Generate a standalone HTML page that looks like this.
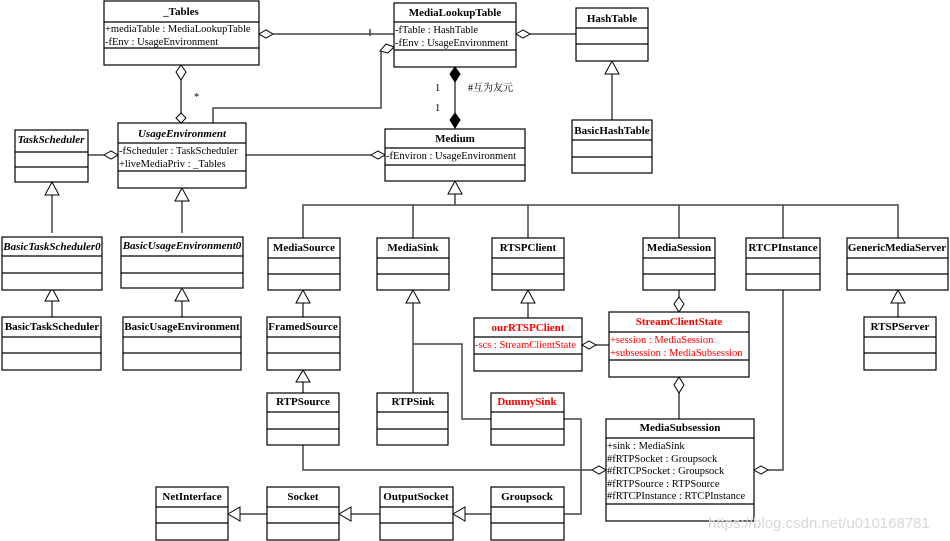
<!DOCTYPE html>
<html><head><meta charset="utf-8"><style>
html,body{margin:0;padding:0;background:#fff;}
svg{display:block;}
text{font-family:"Liberation Serif","Noto Serif CJK SC",serif;font-size:10.5px;fill:#000;}
.h{font-weight:bold;font-size:11px;text-anchor:middle;}
.i{font-style:italic;}
.r{fill:#f00;}
.b{fill:#fff;stroke:#000;stroke-width:1.2;}
.d{stroke:#000;stroke-width:1.2;}
.c{stroke:#444;stroke-width:1.5;fill:none;}
.t{fill:#fff;stroke:#000;stroke-width:1;}
.o{fill:#fff;stroke:#000;stroke-width:1;}
.f{fill:#000;stroke:#000;}
</style></head><body>
<svg width="950" height="541" viewBox="0 0 950 541" xmlns="http://www.w3.org/2000/svg">
<!-- connectors -->
<g class="c">
<polyline points="273,34 394,34"/><line x1="370" y1="29" x2="370" y2="36"/>
<polyline points="381,52 381,108 213,108 213,123"/>
<polyline points="530,34 576,34"/>
<line x1="455" y1="82" x2="455" y2="113"/>
<line x1="181" y1="80" x2="181" y2="113"/>
<line x1="88" y1="155" x2="104" y2="155"/>
<line x1="246" y1="155" x2="371" y2="155"/>
<line x1="612" y1="74" x2="612" y2="120"/>
<line x1="52" y1="195" x2="52" y2="233"/>
<line x1="182" y1="201" x2="182" y2="233"/>
<line x1="52" y1="301" x2="52" y2="317"/>
<line x1="182" y1="301" x2="182" y2="317"/>
<polyline points="455,194 455,205"/>
<polyline points="303,238 303,205 898,205 898,238"/>
<line x1="413" y1="205" x2="413" y2="238"/>
<line x1="528" y1="205" x2="528" y2="238"/>
<line x1="679" y1="205" x2="679" y2="238"/>
<line x1="783" y1="205" x2="783" y2="238"/>
<line x1="303" y1="303" x2="303" y2="317"/>
<line x1="303" y1="382" x2="303" y2="393"/>
<line x1="413" y1="303" x2="413" y2="393"/>
<polyline points="413,344 462,344 462,419 491,419"/>
<line x1="528" y1="303" x2="528" y2="318"/>
<line x1="596" y1="345" x2="609" y2="345"/>
<line x1="679" y1="290" x2="679" y2="297"/>
<line x1="679" y1="393" x2="679" y2="419"/>
<polyline points="783,290 783,470 768,470"/>
<polyline points="303,445 303,470 592,470"/>
<polyline points="564,419 581,419 581,514 564,514"/>
<line x1="465" y1="514" x2="491" y2="514"/>
<line x1="351" y1="514" x2="380" y2="514"/>
<line x1="240" y1="514" x2="267" y2="514"/>
<line x1="898" y1="303" x2="898" y2="317"/>
</g>
<!-- diamonds -->
<polygon class="o" points="259,34 266,30 273,34 266,38"/>
<polygon class="o" points="394,47 388,53 380,51 386,44"/>
<polygon class="o" points="516,34 523,30 530,34 523,38"/>
<polygon class="o" points="181,65 186,72 181,80 176,72"/>
<polygon class="o" points="181,113 186,118 181,123 176,118"/>
<polygon class="o" points="104,155 111,151 118,155 111,159"/>
<polygon class="o" points="371,155 378,151 385,155 378,159"/>
<polygon class="f" points="455,67 460,74 455,82 450,74"/>
<polygon class="f" points="455,113 460,120 455,128 450,120"/>
<polygon class="o" points="582,345 589,341 596,345 589,349"/>
<polygon class="o" points="679,297 684,304 679,312 674,304"/>
<polygon class="o" points="679,377 684,385 679,393 674,385"/>
<polygon class="o" points="754,470 761,466 768,470 761,474"/>
<polygon class="o" points="592,470 599,466 606,470 599,474"/>
<!-- triangles (up) -->
<polygon class="t" points="612,61 605,74 619,74"/>
<polygon class="t" points="52,182 45,195 59,195"/>
<polygon class="t" points="182,188 175,201 189,201"/>
<polygon class="t" points="52,288 45,301 59,301"/>
<polygon class="t" points="182,288 175,301 189,301"/>
<polygon class="t" points="455,181 448,194 462,194"/>
<polygon class="t" points="303,290 296,303 310,303"/>
<polygon class="t" points="303,370 296,382 310,382"/>
<polygon class="t" points="413,290 406,303 420,303"/>
<polygon class="t" points="528,290 521,303 535,303"/>
<polygon class="t" points="898,290 891,303 905,303"/>
<!-- triangles left -->
<polygon class="t" points="453,514 465,507 465,521"/>
<polygon class="t" points="339,514 351,507 351,521"/>
<polygon class="t" points="228,514 240,507 240,521"/>
<!-- labels -->
<text x="435" y="91">1</text><text x="435" y="111">1</text>
<text x="468" y="91" style="font-size:10px">#互为友元</text>
<text x="194" y="100">*</text>

<!-- boxes -->
<g>
<rect class="b" x="104" y="1" width="155" height="64"/><line class="d" x1="104" y1="22" x2="259" y2="22"/><line class="d" x1="104" y1="48" x2="259" y2="48"/>
<text class="h" x="181" y="15">_Tables</text><text x="105" y="32">+mediaTable : MediaLookupTable</text><text x="105" y="45">-fEnv : UsageEnvironment</text>

<rect class="b" x="394" y="3" width="122" height="64"/><line class="d" x1="394" y1="22" x2="516" y2="22"/><line class="d" x1="394" y1="50" x2="516" y2="50"/>
<text class="h" x="455" y="16">MediaLookupTable</text><text x="395" y="33">-fTable : HashTable</text><text x="395" y="46">-fEnv : UsageEnvironment</text>

<rect class="b" x="576" y="8" width="72" height="53"/><line class="d" x1="576" y1="28" x2="648" y2="28"/><line class="d" x1="576" y1="44" x2="648" y2="44"/>
<text class="h" x="612" y="22">HashTable</text>

<rect class="b" x="572" y="120" width="80" height="53"/><line class="d" x1="572" y1="140" x2="652" y2="140"/><line class="d" x1="572" y1="157" x2="652" y2="157"/>
<text class="h" x="612" y="134">BasicHashTable</text>

<rect class="b" x="15" y="130" width="73" height="52"/><line class="d" x1="15" y1="152" x2="88" y2="152"/><line class="d" x1="15" y1="167" x2="88" y2="167"/>
<text class="h i" x="51" y="143">TaskScheduler</text>

<rect class="b" x="118" y="123" width="128" height="65"/><line class="d" x1="118" y1="143" x2="246" y2="143"/><line class="d" x1="118" y1="171" x2="246" y2="171"/>
<text class="h i" x="182" y="137">UsageEnvironment</text><text x="119" y="154">-fScheduler : TaskScheduler</text><text x="119" y="167">+liveMediaPriv : _Tables</text>

<rect class="b" x="385" y="129" width="140" height="52"/><line class="d" x1="385" y1="148" x2="525" y2="148"/><line class="d" x1="385" y1="165" x2="525" y2="165"/>
<text class="h" x="455" y="142">Medium</text><text x="386" y="159">-fEnviron : UsageEnvironment</text>

<rect class="b" x="2" y="237" width="100" height="53"/><line class="d" x1="2" y1="256" x2="102" y2="256"/><line class="d" x1="2" y1="273" x2="102" y2="273"/>
<text class="h i" x="52" y="250">BasicTaskScheduler0</text>

<rect class="b" x="121" y="237" width="122" height="51"/><line class="d" x1="121" y1="256" x2="243" y2="256"/><line class="d" x1="121" y1="273" x2="243" y2="273"/>
<text class="h i" x="182" y="249">BasicUsageEnvironment0</text>

<rect class="b" x="268" y="238" width="72" height="52"/><line class="d" x1="268" y1="258" x2="340" y2="258"/><line class="d" x1="268" y1="274" x2="340" y2="274"/>
<text class="h" x="304" y="251">MediaSource</text>
<rect class="b" x="377" y="238" width="72" height="52"/><line class="d" x1="377" y1="258" x2="449" y2="258"/><line class="d" x1="377" y1="274" x2="449" y2="274"/>
<text class="h" x="413" y="251">MediaSink</text>
<rect class="b" x="492" y="238" width="72" height="52"/><line class="d" x1="492" y1="258" x2="564" y2="258"/><line class="d" x1="492" y1="274" x2="564" y2="274"/>
<text class="h" x="528" y="251">RTSPClient</text>
<rect class="b" x="643" y="238" width="72" height="52"/><line class="d" x1="643" y1="258" x2="715" y2="258"/><line class="d" x1="643" y1="274" x2="715" y2="274"/>
<text class="h" x="679" y="251">MediaSession</text>
<rect class="b" x="746" y="238" width="74" height="52"/><line class="d" x1="746" y1="258" x2="820" y2="258"/><line class="d" x1="746" y1="274" x2="820" y2="274"/>
<text class="h" x="783" y="251">RTCPInstance</text>
<rect class="b" x="847" y="238" width="101" height="52"/><line class="d" x1="847" y1="258" x2="948" y2="258"/><line class="d" x1="847" y1="274" x2="948" y2="274"/>
<text class="h" x="897" y="251">GenericMediaServer</text>

<rect class="b" x="2" y="317" width="99" height="53"/><line class="d" x1="2" y1="337" x2="101" y2="337"/><line class="d" x1="2" y1="353" x2="101" y2="353"/>
<text class="h" x="52" y="330">BasicTaskScheduler</text>
<rect class="b" x="123" y="317" width="118" height="53"/><line class="d" x1="123" y1="337" x2="241" y2="337"/><line class="d" x1="123" y1="353" x2="241" y2="353"/>
<text class="h" x="182" y="330">BasicUsageEnvironment</text>
<rect class="b" x="267" y="317" width="73" height="53"/><line class="d" x1="267" y1="337" x2="340" y2="337"/><line class="d" x1="267" y1="353" x2="340" y2="353"/>
<text class="h" x="303" y="330">FramedSource</text>
<rect class="b" x="864" y="317" width="72" height="53"/><line class="d" x1="864" y1="337" x2="936" y2="337"/><line class="d" x1="864" y1="353" x2="936" y2="353"/>
<text class="h" x="900" y="330">RTSPServer</text>

<rect class="b" x="474" y="318" width="108" height="53"/><line class="d" x1="474" y1="337" x2="582" y2="337"/><line class="d" x1="474" y1="354" x2="582" y2="354"/>
<text class="h r" x="528" y="331">ourRTSPClient</text><text class="r" x="475" y="348">-scs : StreamClientState</text>

<rect class="b" x="609" y="312" width="140" height="65"/><line class="d" x1="609" y1="332" x2="749" y2="332"/><line class="d" x1="609" y1="360" x2="749" y2="360"/>
<text class="h r" x="679" y="325">StreamClientState</text><text class="r" x="610" y="343">+session : MediaSession</text><text class="r" x="610" y="356">+subsession : MediaSubsession</text>

<rect class="b" x="267" y="393" width="72" height="52"/><line class="d" x1="267" y1="412" x2="339" y2="412"/><line class="d" x1="267" y1="429" x2="339" y2="429"/>
<text class="h" x="303" y="405">RTPSource</text>
<rect class="b" x="377" y="393" width="71" height="52"/><line class="d" x1="377" y1="412" x2="448" y2="412"/><line class="d" x1="377" y1="429" x2="448" y2="429"/>
<text class="h" x="413" y="405">RTPSink</text>
<rect class="b" x="491" y="393" width="73" height="52"/><line class="d" x1="491" y1="412" x2="564" y2="412"/><line class="d" x1="491" y1="429" x2="564" y2="429"/>
<text class="h r" x="527" y="405">DummySink</text>

<rect class="b" x="606" y="419" width="148" height="102"/><line class="d" x1="606" y1="438" x2="754" y2="438"/><line class="d" x1="606" y1="504" x2="754" y2="504"/>
<text class="h" x="680" y="431">MediaSubsession</text>
<text x="607" y="449">+sink : MediaSink</text><text x="607" y="462">#fRTPSocket : Groupsock</text><text x="607" y="474">#fRTCPSocket : Groupsock</text><text x="607" y="487">#fRTPSource : RTPSource</text><text x="607" y="499">#fRTCPInstance : RTCPInstance</text>

<rect class="b" x="156" y="487" width="72" height="53"/><line class="d" x1="156" y1="507" x2="228" y2="507"/><line class="d" x1="156" y1="523" x2="228" y2="523"/>
<text class="h" x="192" y="500">NetInterface</text>
<rect class="b" x="267" y="487" width="72" height="53"/><line class="d" x1="267" y1="507" x2="339" y2="507"/><line class="d" x1="267" y1="523" x2="339" y2="523"/>
<text class="h" x="303" y="500">Socket</text>
<rect class="b" x="380" y="487" width="73" height="53"/><line class="d" x1="380" y1="507" x2="453" y2="507"/><line class="d" x1="380" y1="523" x2="453" y2="523"/>
<text class="h" x="416" y="500">OutputSocket</text>
<rect class="b" x="491" y="487" width="73" height="53"/><line class="d" x1="491" y1="507" x2="564" y2="507"/><line class="d" x1="491" y1="523" x2="564" y2="523"/>
<text class="h" x="527" y="500">Groupsock</text>
</g>
<text x="708" y="528" style="font-family:'Liberation Sans',sans-serif;font-size:15px;fill:#d8d8d8;">https://blog.csdn.net/u010168781</text>
</svg>
</body></html>
